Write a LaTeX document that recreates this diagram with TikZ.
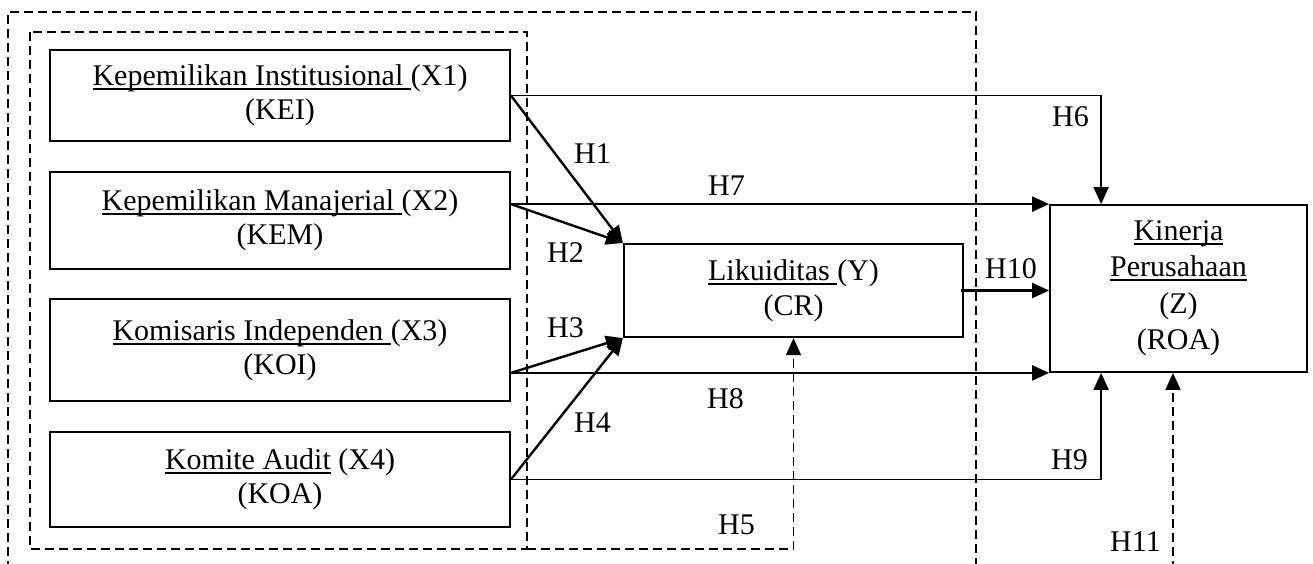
\documentclass[tikz,border=0pt]{standalone}
\usepackage{fontspec}
\setmainfont{Liberation Serif}
\usetikzlibrary{arrows.meta}
% underline at a fixed depth below the baseline
\newcommand\ulx[1]{\setbox0\hbox{#1}\rlap{\rule[-4.5pt]{\wd0}{2pt}}\box0\relax}
\begin{document}
\begin{tikzpicture}[x=1pt,y=-1pt,
  box/.style={draw, line width=1.8pt, rectangle, inner sep=0pt, align=center,
              font=\fontsize{30}{34}\selectfont},
  lbl/.style={inner sep=0pt, anchor=base west, font=\fontsize{30}{34}\selectfont},
  arr/.style={-{Triangle[length=17pt,width=15pt]}},
  heavy/.style={line width=2.4pt},
  light/.style={line width=1.8pt},
  grp/.style={line width=1.6pt, dash pattern=on 9pt off 5pt}]
\useasboundingbox (0,0) rectangle (1313,563);

% independent variables
\node[box, minimum width=460pt, minimum height=91pt] (k1) at (280,95.5)
  {\ulx{Kepemilikan Institusional\ }(X1)\\(KEI)};
\node[box, minimum width=460pt, minimum height=97pt] (k2) at (280,220.5)
  {\ulx{Kepemilikan Manajerial\ }(X2)\\(KEM)};
\node[box, minimum width=460pt, minimum height=102pt] (k3) at (280,350)
  {\ulx{Komisaris Independen\ }(X3)\\(KOI)};
\node[box, minimum width=460pt, minimum height=95pt] (k4) at (280,479.5)
  {\ulx{Komite Audit} (X4)\\(KOA)};

% intervening and dependent variables
\node[box, line width=2.2pt, minimum width=339pt, minimum height=93pt,
      font=\fontsize{30}{35}\selectfont] (ly) at (793.5,290.5)
  {\ulx{Likuiditas\ }(Y)\\(CR)};
\node[box, minimum width=257pt, minimum height=167pt,
      font=\fontsize{30}{36.5}\selectfont] (kin) at (1178.5,288.5)
  {\ulx{Kinerja}\\\ulx{Perusahaan}\\(Z)\\(ROA)};

% dashed groupings
\coordinate (oSW) at (8,570);
\coordinate (oNW) at (8,12);
\coordinate (oNE) at (976,12);
\coordinate (oSE) at (976,570);
\draw[grp] (oSW) -- (oNW) -- (oNE) -- (oSE);
\coordinate (gNW) at (30,32);
\coordinate (gSE) at (527,549);
\draw[grp] (gNW) rectangle (gSE);
\draw[grp, arr] (gSE) -| (ly.south);

% connection points
\coordinate (a2) at (k2.east |- kin.north west);
\coordinate (a3) at (k3.east |- kin.south west);
\coordinate (t6) at ([xshift=52pt]kin.north west);
\coordinate (t9) at ([xshift=52pt]kin.south west);
\coordinate (f11) at (1173,570);

% hypotheses
\draw[heavy, arr] (k1.east) -- (ly.north west);
\draw[heavy, arr] (a2) -- (ly.north west);
\draw[heavy, arr] (a3) -- (ly.south west);
\draw[heavy, arr] (k4.east) -- (ly.south west);
\draw[light, arr] (k1.east) -| (t6);
\draw[heavy, arr] (a2) -- (kin.north west);
\draw[heavy, arr] (a3) -- (kin.south west);
\draw[light, arr] (k4.east) -| (t9);
\draw[heavy, arr] ([xshift=-3pt]ly.east) -- (ly.east -| kin.west);
\draw[grp, arr] (f11) -- (f11 |- kin.south);

% labels
\node[lbl] (h1) at (574,163) {H1};
\node[lbl] (h2) at (547,262) {H2};
\node[lbl] (h3) at (547,337) {H3};
\node[lbl] (h4) at (574,432) {H4};
\node[lbl] (h5) at (718,534) {H5};
\node[lbl] (h6) at (1052,126) {H6};
\node[lbl] (h7) at (708,195) {H7};
\node[lbl] (h8) at (707,408) {H8};
\node[lbl] (h9) at (1051,469) {H9};
\node[lbl] (h10) at (985,278) {H10};
\node[lbl] (h11) at (1110,551) {H11};
\end{tikzpicture}
\end{document}
